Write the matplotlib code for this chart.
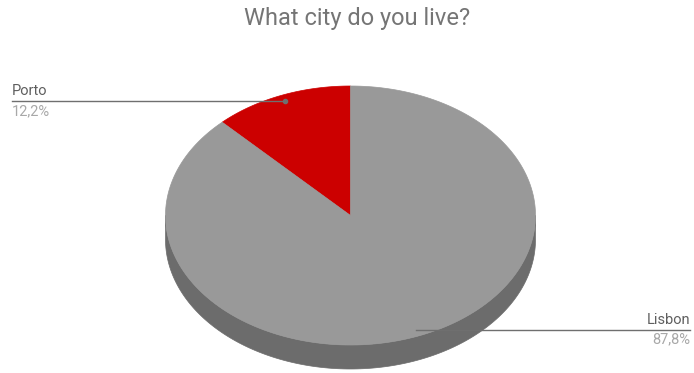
import numpy as np
import matplotlib
matplotlib.use("Agg")
import matplotlib.pyplot as plt
from matplotlib.patches import Polygon

# Survey answers
cities = ["Porto", "Lisbon"]
shares = [12.2, 87.8]
top_colors = ["#cc0000", "#999999"]
side_colors = ["#8f0000", "#6c6c6c"]

# Pie geometry in pixel space (y grows downward)
CX, CY = 350.5, 215.5
RX, RY = 185.0, 129.5
DEPTH = 24.0

fig = plt.figure(figsize=(6.94, 3.73), dpi=100)
ax = fig.add_axes([0, 0, 1, 1])
ax.set_xlim(0, 694)
ax.set_ylim(373, 0)
ax.axis("off")


def ellipse_pts(t0, t1, dy=0.0, n=200):
    t = np.radians(np.linspace(t0, t1, n))
    return CX + RX * np.cos(t), CY - RY * np.sin(t) + dy


# slice angles, counterclockwise from 12 o'clock
fracs = np.array(shares) / sum(shares)
starts = 90 + np.concatenate([[0], np.cumsum(fracs)[:-1]]) * 360
ends = starts + fracs * 360

# extruded side: only the front half (180..360 deg) is visible
for s, e, col in zip(starts, ends, side_colors):
    for shift in (0, 360):
        a, b = max(s - shift, 180), min(e - shift, 360)
        if b > a:
            xt, yt = ellipse_pts(a, b)
            xb, yb = ellipse_pts(b, a, DEPTH)
            ax.add_patch(Polygon(np.column_stack([np.r_[xt, xb], np.r_[yt, yb]]),
                                 closed=True, fc=col, ec=col, lw=0.5, zorder=1))

# top faces
for s, e, col in zip(starts, ends, top_colors):
    xs, ys = ellipse_pts(s, e)
    pts = np.column_stack([np.r_[CX, xs], np.r_[CY, ys]])
    ax.add_patch(Polygon(pts, closed=True, fc=col, ec=col, lw=0.5, zorder=2))

# labels with leader lines
font = "Roboto"
for name, val, s, e in zip(cities, shares, starts, ends):
    mid = np.radians((s + e) / 2)
    px = CX + 0.95 * RX * np.cos(mid)
    py = CY - 0.95 * RY * np.sin(mid)
    pct = f"{val:.1f}%".replace(".", ",")
    if np.cos(mid) < 0:
        x0, ha = 12, "left"
        ax.plot([px], [py], "o", color="#6f6f6f", ms=3, zorder=3)
    else:
        x0, ha = 690, "right"
    ax.plot([x0, px], [py, py], color="#6f6f6f", lw=1, zorder=3)
    ax.text(x0, py - 3, name, ha=ha, va="bottom", fontsize=10.5,
            color="#5f5f5f", family=font)
    ax.text(x0, py + 3, pct, ha=ha, va="top", fontsize=10.5,
            color="#a8a8a8", family=font)

ax.text(357, 18, "What city do you live?", ha="center", va="center",
        fontsize=17, color="#757575", family=font)

fig.savefig("out.png", dpi=100, facecolor="white")
